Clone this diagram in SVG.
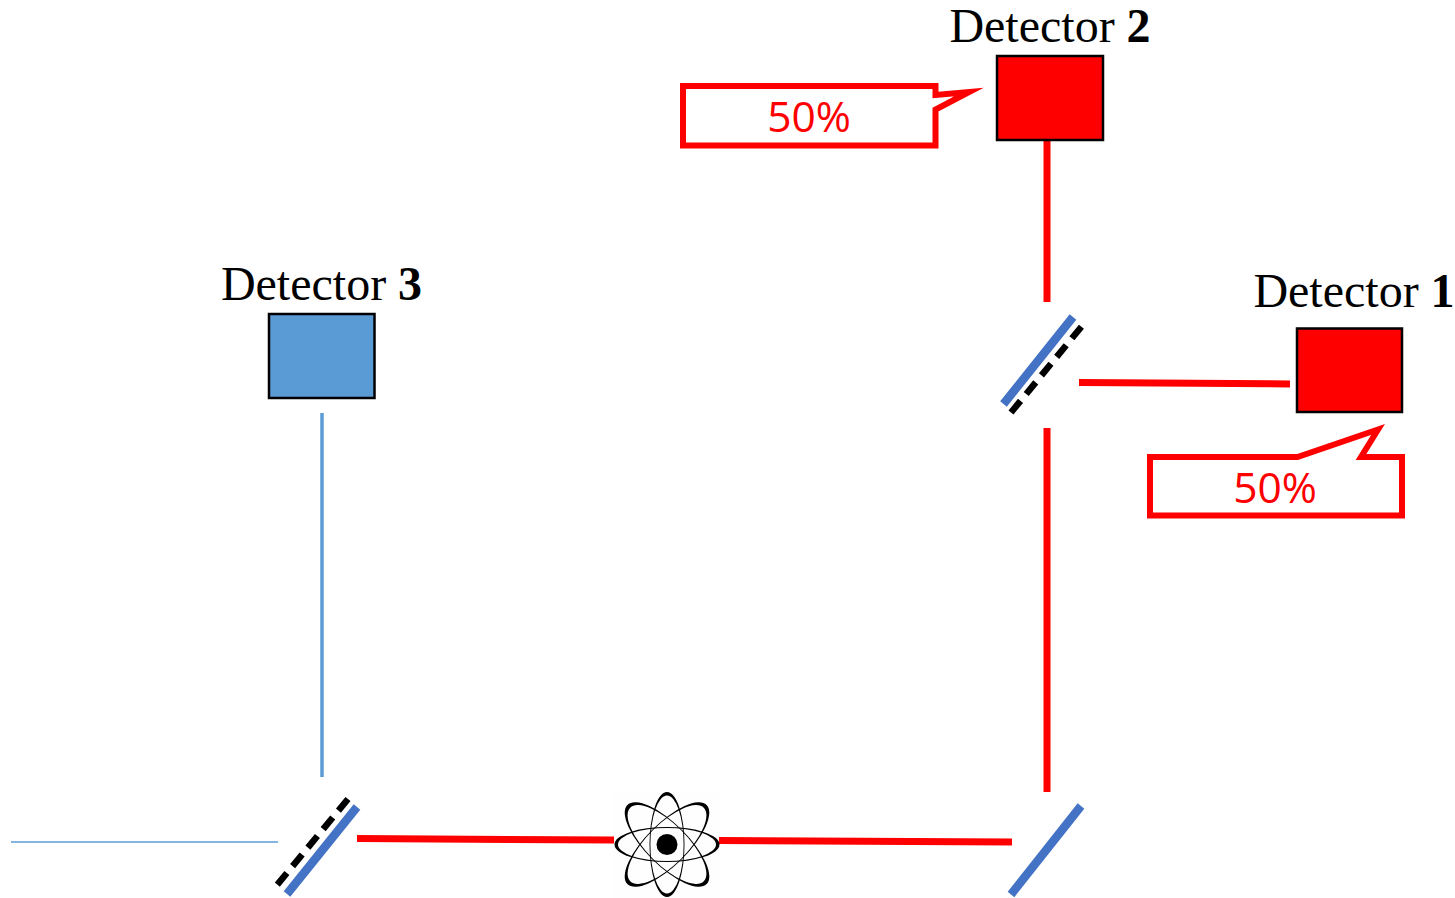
<svg xmlns="http://www.w3.org/2000/svg" width="1455" height="898" viewBox="0 0 1455 898">
<style>
.lbl{font-family:"Liberation Serif","Times New Roman",serif;font-size:48px;fill:#000;text-anchor:middle}
.lbl tspan{font-weight:bold}
.pct{font-family:"Open Sans","Noto Sans",sans-serif;font-size:42.500px;fill:#f00;text-anchor:middle}
.box{stroke:#000;stroke-width:2.500}
.beam{stroke:#f00;stroke-width:7;fill:none}
.ray{stroke:#5b9bd5;fill:none}
.mirror{stroke:#4472c4;stroke-width:8.500;fill:none}
.split{stroke:#000;stroke-width:6.500;stroke-dasharray:15 9;fill:none}
.call{fill:#fff;stroke:#f00;stroke-width:6;stroke-miterlimit:14}
.orb{fill:#000;fill-rule:evenodd}
</style>
<rect width="1455" height="898" fill="#fff"/>
<g id="connectors">
<path class="beam" d="M1047,140V302"/>
<path class="beam" d="M1047,428V792"/>
<path class="beam" d="M1079,382.500L1290,384"/>
<path class="beam" d="M357,838.500L614,840"/>
<path class="beam" d="M719,840.500L1012,842"/>
<path class="ray" stroke-width="3.500" d="M322,413V777"/>
<path class="ray" stroke-width="1.500" d="M11,842H278"/>
</g>
<g id="detector-1"><rect class="box" x="1297" y="328.500" width="105" height="83.500" fill="#f00"/><text class="lbl" x="1354" y="307">Detector <tspan>1</tspan></text></g>
<g id="detector-2"><rect class="box" x="997" y="56" width="106" height="84" fill="#f00"/><text class="lbl" x="1050" y="42">Detector <tspan>2</tspan></text></g>
<g id="detector-3"><rect class="box" x="269" y="314" width="105.500" height="84" fill="#5b9bd5"/><text class="lbl" x="321.500" y="300">Detector <tspan>3</tspan></text></g>
<g id="callout-2"><path class="call" d="M683,86H935.500V95L969,92L935.500,109.500V145.500H683Z"/><text class="pct" x="809" y="132">50%</text></g>
<g id="callout-1"><path class="call" d="M1150,457H1297.500L1378,429.500L1361,457H1402V515.500H1150Z"/><text class="pct" x="1275" y="503">50%</text></g>
<g id="splitter-top"><path class="mirror" d="M1003.500,404L1073,317"/><path class="split" d="M1011,412.500L1082,326"/></g>
<g id="splitter-bottom"><path class="mirror" d="M287,894L357,807"/><path class="split" d="M348,799L277,885"/></g>
<g id="mirror"><path class="mirror" d="M1011,894.500L1081,806"/></g>
<g id="atom">
<rect x="614" y="792" width="105" height="106" fill="#fdfefd"/>
<circle cx="667" cy="844.500" r="10.500" fill="#000"/>
<defs>
<path id="orbit" d="M-52.500,0A52.500,17.500 0 1 0 52.500,0A52.500,17.500 0 1 0 -52.500,0ZM-49,0A49,16.600 0 1 0 49,0A49,16.600 0 1 0 -49,0Z"/>
<path id="orbit-wide" d="M-56,0A56,21 0 1 0 56,0A56,21 0 1 0 -56,0ZM-52,0A52,20 0 1 0 52,0A52,20 0 1 0 -52,0Z"/>
</defs>
<use href="#orbit" class="orb" transform="translate(667 844.500)"/>
<use href="#orbit" class="orb" transform="translate(667 844.500) rotate(90)"/>
<use href="#orbit-wide" class="orb" transform="translate(667 844.500) rotate(45)"/>
<use href="#orbit-wide" class="orb" transform="translate(667 844.500) rotate(-45)"/>
</g>
</svg>
